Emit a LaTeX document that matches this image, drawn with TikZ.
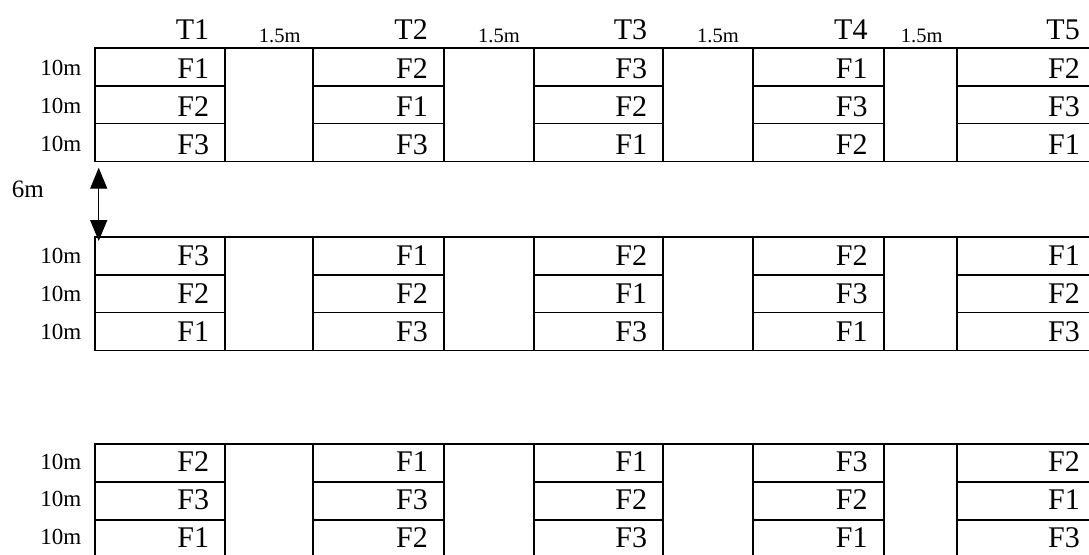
\documentclass[tikz,border=0pt]{standalone}
\usepackage{fontspec}
\setmainfont{Liberation Serif}
\usetikzlibrary{arrows.meta, positioning, calc}

\begin{document}
\begin{tikzpicture}[x=1pt, y=-1pt,
  grid/.style={line width=1.8pt, line cap=rect},
  fname/.style={anchor=base east, inner sep=0pt, text depth=0pt,
                font=\fontsize{30}{32}\selectfont},
  gapnote/.style={anchor=base, inner sep=0pt,
                  font=\fontsize{20.5}{22}\selectfont},
  rownote/.style={anchor=base east, inner sep=0pt,
                  font=\fontsize{23}{24}\selectfont},
  dimarrow/.style={line width=1.4pt,
    arrows={Triangle[length=21pt,width=17pt]-Triangle[length=21pt,width=17pt]}}
]
\useasboundingbox (0,0) rectangle (1089,554);
\clip (0,0) rectangle (1089,554);

% three field blocks, five strips each
\foreach \top/\off/\cols [count=\b] in {
  47.7/30.5/{95/225.3/F1/F2/F3, 313.3/444/F2/F1/F3, 534/663.3/F3/F2/F1,
        753.3/883.7/F1/F3/F2, 957/1096/F2/F3/F1},
  236.7/29/{95/225.3/F3/F2/F1, 313.3/444/F1/F2/F3, 534/663.3/F2/F1/F3,
         753.3/883.7/F2/F3/F1, 957/1096/F1/F2/F3},
  444/27.5/{95/225.3/F2/F3/F1, 313.3/444/F1/F3/F2, 534/663.3/F1/F2/F3,
       753.3/883.7/F3/F2/F1, 957/1096/F2/F1/F3}} {
  \draw[grid] (95,\top) -- (1096,\top);
  \draw[grid] (95,\top+113.7) -- (1096,\top+113.7);
  \foreach \xl/\xr/\fa/\fb/\fc [count=\c] in \cols {
    \draw[grid] (\xl,\top) -- (\xl,\top+113.7)
                (\xr,\top) -- (\xr,\top+113.7);
    \draw[grid] (\xl,\top+37.9) -- (\xr,\top+37.9)
                (\xl,\top+75.8) -- (\xr,\top+75.8);
    \node[fname] (f\b\c-1) at (\xr-16,\top+\off) {\fa};
    \node[fname] (f\b\c-2) at (\xr-16,\top+\off+37.9) {\fb};
    \node[fname] (f\b\c-3) at (\xr-16,\top+\off+75.8) {\fc};
  }
  \foreach \r in {0,1,2}
    \node[rownote] (len\b\r) at (81.5,\top+\off-2.5+37.9*\r) {10m};
}

% treatment heads and path widths
\foreach \xr/\tn in {225.3/T1, 444/T2, 663.3/T3, 883.7/T4, 1096/T5}
  \node[fname] (\tn) at (\xr-16,39.3) {\tn};
\foreach \xm [count=\g] in {279.7, 499, 718, 921.7}
  \node[gapnote] (gap\g) at (\xm,42) {1.5m};

% spacing between blocks
\node[rownote, anchor=base west, font=\fontsize{25}{26}\selectfont]
  (sep) at (11.7,197.5) {6m};
\coordinate (sepTop) at (98.7,167.7);
\coordinate (sepBot) at (98.7,241);
\draw[dimarrow] (sepTop) -- (sepBot);
\end{tikzpicture}
\end{document}
